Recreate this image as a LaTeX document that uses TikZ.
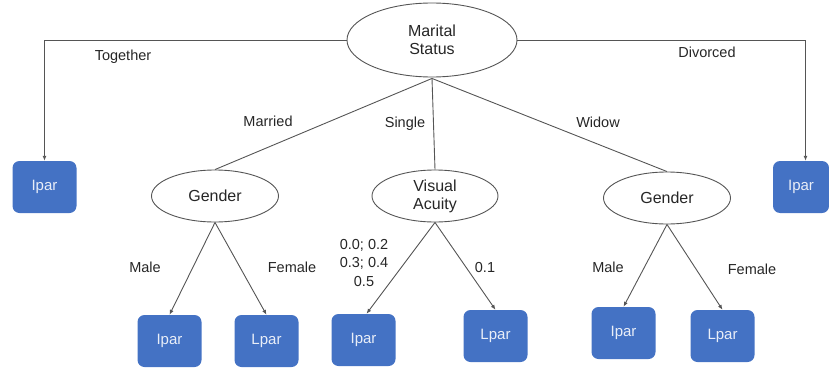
\documentclass[tikz,border=0pt]{standalone}
\usepackage{fontspec}
\setmainfont{Liberation Sans}
\usetikzlibrary{shapes.geometric,arrows.meta}
\definecolor{leafblue}{HTML}{4472C4}
\definecolor{edgegray}{HTML}{555555}
\definecolor{txtgray}{HTML}{262626}
\begin{document}
\begin{tikzpicture}[x=1pt,y=-1pt,
  split/.style={ellipse,draw=edgegray,line width=0.9pt,fill=white,inner sep=0pt,
    text=txtgray,align=center,font=\fontsize{16}{18}\selectfont},
  leaf/.style={rectangle,rounded corners=7pt,fill=leafblue,draw=none,
    minimum width=64pt,minimum height=52pt,inner sep=0pt,text=white!88!leafblue,
    font=\fontsize{15}{17}\selectfont},
  lbl/.style={text=txtgray,inner sep=0pt,align=center,font=\fontsize{14.5}{18.5}\selectfont},
  link/.style={draw=edgegray,line width=0.9pt},
  arr/.style={link,-{Latex[length=5pt,width=4pt]}}]
\useasboundingbox (0,0) rectangle (829,369);

% root and inner decision nodes
\node[split,minimum width=170pt,minimum height=74pt] (ms) at (432,40) {Marital\\Status};
\node[split,minimum width=127pt,minimum height=52pt] (g1) at (215,196) {Gender};
\node[split,minimum width=126pt,minimum height=52pt] (va) at (435,196) {Visual\\Acuity};
\node[split,minimum width=127pt,minimum height=52pt] (g2) at (667,198) {Gender};

% leaves
\node[leaf] (l0) at (44.5,187) {Ipar};
\node[leaf,minimum width=56pt] (r0) at (801,187) {Ipar};
\node[leaf] (a1) at (169.5,341) {Ipar};
\node[leaf] (a2) at (266.5,341) {Lpar};
\node[leaf] (b1) at (363.5,340) {Ipar};
\node[leaf] (b2) at (495.5,336) {Lpar};
\node[leaf] (c1) at (623.5,333) {Ipar};
\node[leaf] (c2) at (722.5,336) {Lpar};

% branches from the root
\coordinate (root) at ([yshift=-1pt]ms.south);
\draw[arr] (ms.west) -| (l0.north);
\draw[arr] (ms.east) -| ([xshift=4.5pt]r0.north);
\draw[link] (root) -- (g1.north);
\draw[link] (root) -- (va.north);
\draw[link] (root) -- (g2.north);

% branches to the leaves
\draw[arr] (g1.south) -- (a1.north);
\draw[arr] (g1.south) -- (a2.north);
\draw[arr] (va.south) -- ([xshift=3pt]b1.north);
\draw[arr] (va.south) -- (b2.north);
\draw[arr] (g2.south) -- (c1.north);
\draw[arr] (g2.south) -- (c2.north);

% branch labels
\node[lbl] (t1) at (123,57) {Together};
\node[lbl] (t2) at (707,52) {Divorced};
\node[lbl] (t3) at (268,121) {Married};
\node[lbl] (t4) at (405,124) {Single};
\node[lbl] (t5) at (598,122) {Widow};
\node[lbl] (t6) at (145,267) {Male};
\node[lbl] (t7) at (292,267) {Female};
\node[lbl] (t8) at (364,263) {0.0; 0.2\\0.3; 0.4\\0.5};
\node[lbl] (t9) at (485,268) {0.1};
\node[lbl] (t10) at (608,267) {Male};
\node[lbl] (t11) at (752,269) {Female};
\end{tikzpicture}
\end{document}
